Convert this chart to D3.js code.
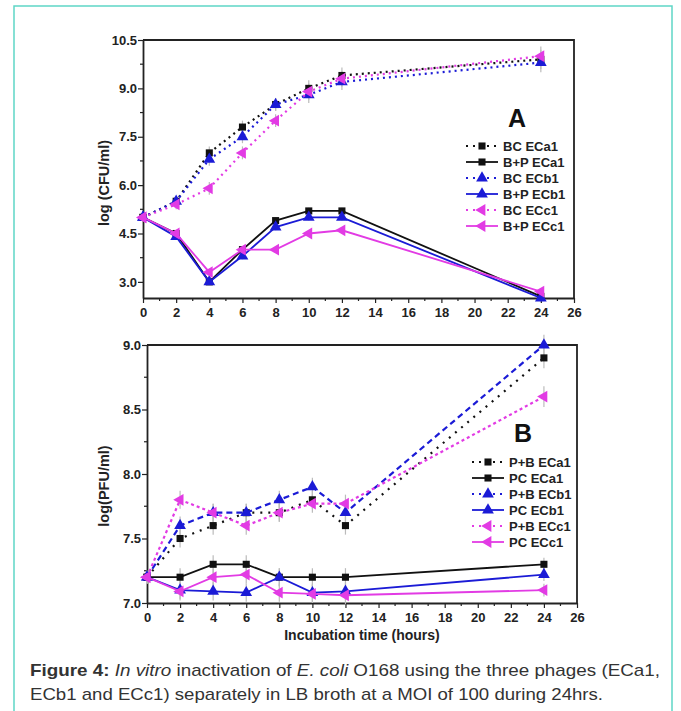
<!DOCTYPE html>
<html>
<head>
<meta charset="utf-8">
<script src="https://cdn.jsdelivr.net/npm/d3@7"></script>
<style>
  body { margin: 0; background: #fff; }
  svg { display: block; }
  .tick text { font-family: "Liberation Sans", Arial, sans-serif; font-weight: bold; font-size: 13px; fill: #222; }
</style>
</head>
<body>
<div id="chart-area"></div>
<script>
// ---- data ----
const hours = [0, 2, 4, 6, 8, 10, 12, 24]

// panel A: log (CFU/ml)
const bcECa1  = [5.0, 5.5, 7.0, 7.8, 8.5, 9.0, 9.4, 9.9]
const bpECa1  = [5.0, 4.5, 3.0, 4.0, 4.9, 5.2, 5.2, 2.55]
const bcECb1  = [5.0, 5.5, 6.8, 7.5, 8.5, 8.8, 9.2, 9.8]
const bpECb1  = [5.0, 4.4, 3.0, 3.8, 4.7, 5.0, 5.0, 2.5]
const bcECc1  = [5.0, 5.4, 5.9, 7.0, 8.0, 8.9, 9.3, 10.0]
const bpECc1  = [5.0, 4.5, 3.3, 4.0, 4.0, 4.5, 4.6, 2.7]
const errBC   = [0.1, 0.15, 0.2, 0.2, 0.2, 0.25, 0.25, 0.3]
const errBP   = [0.05, 0.1, 0.1, 0.1, 0.1, 0.1, 0.1, 0.1]

// panel B: log(PFU/ml)
const pbECa1  = [7.2, 7.5, 7.6, 7.7, 7.7, 7.8, 7.6, 8.9]
const pcECa1  = [7.2, 7.2, 7.3, 7.3, 7.2, 7.2, 7.2, 7.3]
const pbECb1  = [7.2, 7.6, 7.7, 7.7, 7.8, 7.9, 7.7, 9.0]
const pcECb1  = [7.2, 7.1, 7.09, 7.08, 7.2, 7.08, 7.09, 7.22]
const pbECc1  = [7.2, 7.8, 7.7, 7.6, 7.7, 7.77, 7.77, 8.6]
const pcECc1  = [7.2, 7.09, 7.2, 7.22, 7.08, 7.07, 7.06, 7.1]
const errPB   = [0.05, 0.07, 0.07, 0.07, 0.07, 0.07, 0.07, 0.08]
const errPC   = [0.04, 0.07, 0.07, 0.07, 0.07, 0.07, 0.07, 0.05]

const xTicks  = [0, 2, 4, 6, 8, 10, 12, 14, 16, 18, 20, 22, 24, 26]
const yTicksA = [3.0, 4.5, 6.0, 7.5, 9.0, 10.5]
const yTicksB = [7.0, 7.5, 8.0, 8.5, 9.0]

const BLACK = "#111111", BLUE = "#1b1bd6", MAG = "#e23be4"

const svg = d3.select("#chart-area").append("svg")
  .attr("width", 681)
  .attr("height", 711)

// figure frame
svg.append("rect")
  .attr("x", 14).attr("y", 6)
  .attr("width", 658).attr("height", 720)
  .attr("fill", "none")
  .attr("stroke", "#5fd6c6")
  .attr("stroke-width", 1.5)

const triUp = d3.symbol().type(d3.symbolTriangle).size(60)
const square = d3.symbol().type(d3.symbolSquare).size(50)

function marker(sel, kind, color) {
  if (kind === "sq") {
    sel.append("path").attr("d", square()).attr("fill", color)
  } else if (kind === "tri") {
    sel.append("path").attr("d", triUp()).attr("fill", color)
  } else {
    sel.append("path").attr("d", triUp()).attr("transform", "rotate(-90)").attr("fill", color)
  }
}

function drawPanel(cfg) {
  const g = svg.append("g")
  const x = d3.scaleLinear().domain([0, 26]).range([cfg.left, cfg.right])
  const y = d3.scaleLinear().domain(cfg.yDomain).range([cfg.bottom, cfg.top])

  // minor ticks
  const xMinor = d3.range(1, 26, 2)
  g.selectAll(".xminor").data(xMinor).join("line")
    .attr("x1", d => x(d)).attr("x2", d => x(d))
    .attr("y1", cfg.bottom).attr("y2", cfg.bottom + 3)
    .attr("stroke", "#222").attr("stroke-width", 1.2)
  g.selectAll(".yminor").data(cfg.yMinor).join("line")
    .attr("y1", d => y(d)).attr("y2", d => y(d))
    .attr("x1", cfg.left).attr("x2", cfg.left - 3)
    .attr("stroke", "#222").attr("stroke-width", 1.2)

  const xAxis = g.append("g")
    .attr("transform", `translate(0, ${cfg.bottom})`)
    .call(d3.axisBottom(x).tickValues(xTicks).tickSize(5).tickPadding(5).tickSizeOuter(0))
  const yAxis = g.append("g")
    .attr("transform", `translate(${cfg.left}, 0)`)
    .call(d3.axisLeft(y).tickValues(cfg.yTicks).tickFormat(d3.format(".1f")).tickSize(5).tickPadding(1).tickSizeOuter(0))
  ;[xAxis, yAxis].forEach(a => {
    a.select(".domain").attr("stroke", "#222").attr("stroke-width", 1.8)
    a.selectAll(".tick line").attr("stroke", "#222").attr("stroke-width", 1.2)
  })

  // top/right frame
  g.append("path")
    .attr("d", `M${cfg.left},${cfg.top}H${cfg.right}V${cfg.bottom}`)
    .attr("fill", "none").attr("stroke", "#222").attr("stroke-width", 1.8)

  // axis titles
  g.append("text")
    .attr("transform", `translate(${cfg.yTitleX}, ${cfg.yTitleY}) rotate(-90)`)
    .attr("text-anchor", "middle")
    .style("font-family", "Liberation Sans, Arial, sans-serif")
    .style("font-weight", "bold").style("font-size", "14.5px").attr("fill", "#222")
    .text(cfg.yTitle)
  if (cfg.xTitle) {
    g.append("text")
      .attr("x", (cfg.left + cfg.right) / 2).attr("y", cfg.bottom + 37)
      .attr("text-anchor", "middle")
      .style("font-family", "Liberation Sans, Arial, sans-serif")
      .style("font-weight", "bold").style("font-size", "14px").attr("fill", "#222")
      .text(cfg.xTitle)
  }

  // panel letter
  g.append("text")
    .attr("x", cfg.letterX).attr("y", cfg.letterY)
    .attr("text-anchor", "middle")
    .style("font-family", "Liberation Sans, Arial, sans-serif")
    .style("font-weight", "bold").style("font-size", "25px").attr("fill", "#111")
    .text(cfg.letter)

  const line = d3.line().x(d => x(d[0])).y(d => y(d[1]))

  // error bars
  cfg.series.forEach(s => {
    const pts = hours.map((h, i) => [h, s.values[i], s.err[i]])
    g.append("g").selectAll("line").data(pts).join("line")
      .attr("x1", d => x(d[0])).attr("x2", d => x(d[0]))
      .attr("y1", d => y(d[1] - d[2])).attr("y2", d => y(d[1] + d[2]))
      .attr("stroke", "#bbbbbb").attr("stroke-width", 1.2)
  })

  // lines then markers
  cfg.series.forEach(s => {
    const pts = hours.map((h, i) => [h, s.values[i]])
    g.append("path").datum(pts)
      .attr("fill", "none")
      .attr("stroke", s.color)
      .attr("stroke-width", s.dash ? 2.2 : 1.8)
      .attr("stroke-dasharray", s.dash || null)
      .attr("d", line)
    pts.forEach(p => {
      const m = g.append("g").attr("transform", `translate(${x(p[0])}, ${y(p[1])})`)
      marker(m, s.mark, s.color)
    })
  })

  // legend
  const lg = g.append("g")
  cfg.series.forEach((s, i) => {
    const yy = cfg.legY + i * cfg.legStep
    lg.append("line")
      .attr("x1", cfg.legX).attr("x2", cfg.legX + 32)
      .attr("y1", yy).attr("y2", yy)
      .attr("stroke", s.color).attr("stroke-width", s.dash ? 2.2 : 1.8)
      .attr("stroke-dasharray", s.dash ? "2,5" : null)
    const m = lg.append("g").attr("transform", `translate(${cfg.legX + 16}, ${yy})`)
    marker(m, s.mark, s.color)
    lg.append("text")
      .attr("x", cfg.legX + 37).attr("y", yy + 4.5)
      .style("font-family", "Liberation Sans, Arial, sans-serif")
      .style("font-weight", "bold").style("font-size", "13px").attr("fill", "#222")
      .text(s.name)
  })
}

drawPanel({
  left: 143, right: 574, top: 40, bottom: 298,
  yDomain: [2.5, 10.5], yTicks: yTicksA, yMinor: [3.75, 5.25, 6.75, 8.25, 9.75],
  yTitle: "log (CFU/ml)", yTitleX: 109, yTitleY: 183,
  letter: "A", letterX: 517, letterY: 127,
  legX: 466, legY: 146, legStep: 16,
  series: [
    { name: "BC ECa1",  values: bcECa1, err: errBC, color: BLACK, dash: "2,4", mark: "sq" },
    { name: "B+P ECa1", values: bpECa1, err: errBP, color: BLACK, dash: null,  mark: "sq" },
    { name: "BC ECb1",  values: bcECb1, err: errBC, color: BLUE,  dash: "2,4", mark: "tri" },
    { name: "B+P ECb1", values: bpECb1, err: errBP, color: BLUE,  dash: null,  mark: "tri" },
    { name: "BC ECc1",  values: bcECc1, err: errBC, color: MAG,   dash: "2,4", mark: "left" },
    { name: "B+P ECc1", values: bpECc1, err: errBP, color: MAG,   dash: null,  mark: "left" }
  ]
})

drawPanel({
  left: 147, right: 577, top: 345, bottom: 603,
  yDomain: [7.0, 9.0], yTicks: yTicksB, yMinor: [7.25, 7.75, 8.25, 8.75],
  yTitle: "log(PFU/ml)", yTitleX: 109, yTitleY: 486,
  xTitle: "Incubation time (hours)",
  letter: "B", letterX: 523, letterY: 442,
  legX: 472, legY: 462, legStep: 16,
  series: [
    { name: "P+B ECa1", values: pbECa1, err: errPB, color: BLACK, dash: "2,6", mark: "sq" },
    { name: "PC ECa1",  values: pcECa1, err: errPC, color: BLACK, dash: null,  mark: "sq" },
    { name: "P+B ECb1", values: pbECb1, err: errPB, color: BLUE,  dash: "6,4", mark: "tri" },
    { name: "PC ECb1",  values: pcECb1, err: errPC, color: BLUE,  dash: null,  mark: "tri" },
    { name: "P+B ECc1", values: pbECc1, err: errPB, color: MAG,   dash: "3,3", mark: "left" },
    { name: "PC ECc1",  values: pcECc1, err: errPC, color: MAG,   dash: null,  mark: "left" }
  ]
})

// caption
const cap = svg.append("g")
  .style("font-family", "Liberation Sans, Arial, sans-serif")
  .style("font-size", "17px").attr("fill", "#333")
const l1 = cap.append("text").attr("x", 30).attr("y", 676)
  .attr("textLength", 630).attr("lengthAdjust", "spacingAndGlyphs")
l1.append("tspan").style("font-weight", "bold").text("Figure 4:")
l1.append("tspan").text(" ")
l1.append("tspan").style("font-style", "italic").text("In vitro")
l1.append("tspan").text(" inactivation of ")
l1.append("tspan").style("font-style", "italic").text("E. coli")
l1.append("tspan").text(" O168 using the three phages (ECa1,")
cap.append("text").attr("x", 30).attr("y", 700)
  .attr("textLength", 573).attr("lengthAdjust", "spacingAndGlyphs")
  .text("ECb1 and ECc1) separately in LB broth at a MOI of 100 during 24hrs.")
</script>
</body>
</html>
